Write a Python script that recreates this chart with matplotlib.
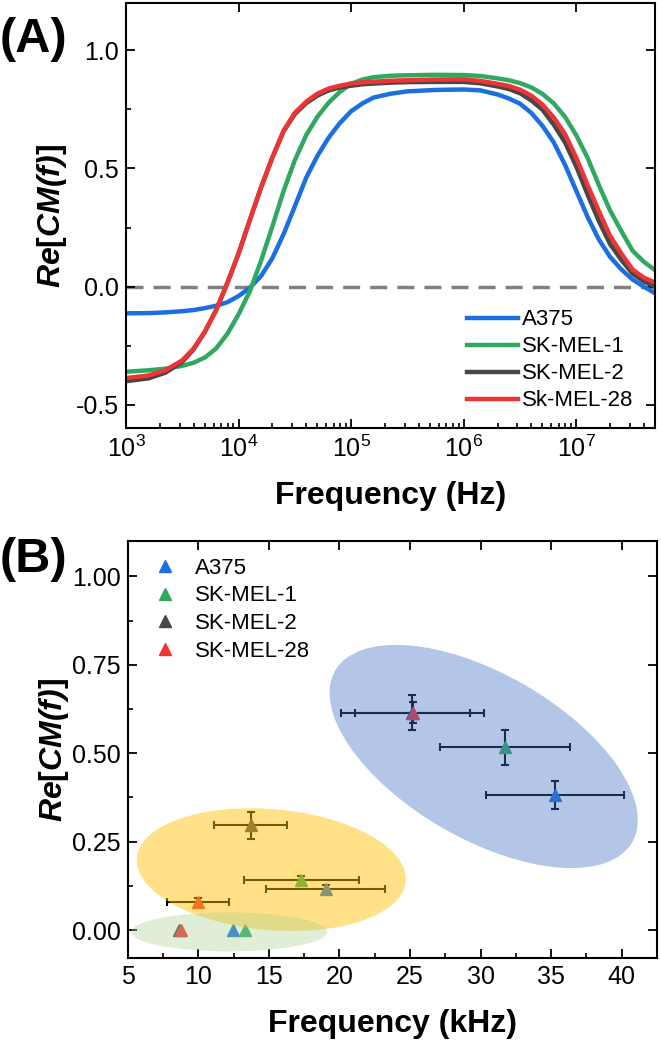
import numpy as np
import matplotlib
matplotlib.use('Agg')
import matplotlib.pyplot as plt
import matplotlib.transforms as mtransforms
from matplotlib.patches import Ellipse
from matplotlib.lines import Line2D
from matplotlib.ticker import MultipleLocator, LogLocator, NullFormatter, FormatStrFormatter

# ---------------- data ----------------
cell_lines = ['A375', 'SK-MEL-1', 'SK-MEL-2', 'SK-MEL-28']
legend_A = ['A375', 'SK-MEL-1', 'SK-MEL-2', 'Sk-MEL-28']
colors = ['#1b6fe0', '#31a85f', '#474747', '#ee3434']

# (A) Re[CM(f)] spectra, read at these log10(f / Hz) values
log_freq_A = [3.0, 3.2, 3.35, 3.5, 3.6, 3.7, 3.8, 3.9, 4.0, 4.1, 4.2, 4.3, 4.4, 4.5,
              4.6, 4.7, 4.8, 4.9, 5.0, 5.1, 5.2, 5.35, 5.5, 5.75, 6.0, 6.15, 6.3, 6.4,
              6.5, 6.6, 6.7, 6.8, 6.9, 7.0, 7.1, 7.2, 7.3, 7.4, 7.5, 7.6, 7.7]
cm_a375 = [-0.113, -0.112, -0.109, -0.104, -0.099, -0.091, -0.081, -0.066, -0.040, -0.005,
           0.045, 0.120, 0.222, 0.340, 0.460, 0.553, 0.630, 0.692, 0.742, 0.775,
           0.800, 0.816, 0.826, 0.832, 0.834, 0.830, 0.813, 0.796, 0.774, 0.735,
           0.680, 0.610, 0.515, 0.405, 0.295, 0.200, 0.126, 0.073, 0.030, 0.000, -0.028]
cm_skmel1 = [-0.360, -0.354, -0.347, -0.335, -0.322, -0.300, -0.262, -0.200, -0.117, -0.020,
             0.110, 0.254, 0.405, 0.535, 0.640, 0.718, 0.778, 0.824, 0.858, 0.876,
             0.886, 0.892, 0.894, 0.896, 0.895, 0.891, 0.881, 0.873, 0.861, 0.843,
             0.815, 0.775, 0.718, 0.640, 0.545, 0.430, 0.322, 0.235, 0.152, 0.105, 0.070]
cm_skmel2 = [-0.400, -0.388, -0.364, -0.318, -0.266, -0.192, -0.100, 0.015, 0.140, 0.282,
             0.420, 0.545, 0.657, 0.730, 0.776, 0.808, 0.830, 0.843, 0.850, 0.856,
             0.859, 0.863, 0.865, 0.866, 0.866, 0.860, 0.847, 0.836, 0.818, 0.788,
             0.748, 0.685, 0.610, 0.508, 0.390, 0.278, 0.180, 0.113, 0.055, 0.022, 0.000]
cm_skmel28 = [-0.387, -0.376, -0.354, -0.312, -0.262, -0.190, -0.100, 0.015, 0.140, 0.282,
              0.420, 0.547, 0.660, 0.735, 0.782, 0.816, 0.838, 0.850, 0.859, 0.864,
              0.867, 0.871, 0.873, 0.876, 0.877, 0.870, 0.858, 0.849, 0.833, 0.808,
              0.770, 0.715, 0.645, 0.545, 0.430, 0.320, 0.215, 0.140, 0.072, 0.038, 0.017]
spectra = [cm_a375, cm_skmel1, cm_skmel2, cm_skmel28]
freq_A = 10 ** np.array(log_freq_A)

# (B) crossover points, kHz, one value per cell line
freq_hi = [35.28, 31.72, 25.15, 25.20]
cm_hi = [0.383, 0.517, 0.615, 0.615]
xerr_hi = [4.87, 4.60, 5.07, 4.07]
yerr_hi = [0.040, 0.050, 0.050, 0.030]

freq_mid = [19.02, 17.30, 13.71, 10.00]
cm_mid = [0.115, 0.141, 0.296, 0.080]
xerr_mid = [4.22, 4.06, 2.60, 2.20]
yerr_mid = [0.013, 0.012, 0.039, 0.012]

freq_lo = [12.43, 13.29, 8.60, 8.75]
cm_lo = [0.0, 0.0, 0.0, 0.0]

# shaded groups: centre (kHz, CM), size in inches, angle, colour, alpha
ell_center = [(30.22, 0.491), (15.17, 0.171), (12.20, -0.005)]
ell_size = [(3.43, 1.65), (2.70, 1.21), (1.96, 0.39)]
ell_angle = [-30, -5, 0]
ell_color = ['#4472C4', '#FFC000', '#A9D18E']
ell_alpha = [0.40, 0.47, 0.35]

# ---------------- style ----------------
plt.rcParams['font.family'] = ['Liberation Sans', 'DejaVu Sans']
plt.rcParams['axes.unicode_minus'] = False
plt.rcParams['mathtext.fontset'] = 'custom'
plt.rcParams['mathtext.rm'] = 'Liberation Sans'
plt.rcParams['mathtext.it'] = 'Liberation Sans:italic'
plt.rcParams['mathtext.bf'] = 'Liberation Sans:bold'
plt.rcParams['mathtext.bfit'] = 'Liberation Sans:bold:italic'

ylab = r'$\mathbfit{Re}$[$\mathbfit{CM(f)}$]'

fig = plt.figure(figsize=(6.61, 10.53), dpi=100)
axA = fig.add_axes([0.1906, 0.5931, 0.8003, 0.4041])
axB = fig.add_axes([0.1932, 0.0898, 0.8008, 0.3964])


def style_axes(ax):
    for s in ax.spines.values():
        s.set_linewidth(1.5)
    ax.tick_params(which='both', direction='in', top=True, right=True, labelsize=18, pad=5)
    ax.tick_params(which='major', length=6.5, width=1.3)
    ax.tick_params(which='minor', length=3.5, width=1.2, top=False, right=False)


# ---------------- (A) ----------------
axA.axhline(0, color='#808080', lw=2.5, ls=(0, (4.9, 2.9)), zorder=1)
for name, vals, col in zip(legend_A, spectra, colors):
    axA.plot(freq_A, vals, color=col, lw=3.2, label=name, zorder=2)

axA.set_xscale('log')
axA.set_xlim(1e3, 5e7)
axA.set_ylim(-0.6, 1.2)
axA.set_yticks([-0.5, 0.0, 0.5, 1.0])
axA.yaxis.set_major_formatter(FormatStrFormatter('%.1f'))
axA.yaxis.set_minor_locator(MultipleLocator(0.25))
axA.xaxis.set_major_locator(LogLocator(base=10, numticks=20))
axA.xaxis.set_minor_locator(LogLocator(base=10, subs=np.arange(2, 10), numticks=20))
axA.xaxis.set_minor_formatter(NullFormatter())
style_axes(axA)
axA.set_xlabel('Frequency (Hz)', fontsize=23, fontweight='bold', labelpad=14)
axA.set_ylabel(ylab, fontsize=23, fontweight='bold')
axA.yaxis.set_label_coords(-0.108, 0.5)

axA.legend(loc='lower right', bbox_to_anchor=(0.96, 0.04), frameon=False, fontsize=16,
           handlelength=2.3, handletextpad=0.18, labelspacing=0.27, borderaxespad=0, borderpad=0)

# ---------------- (B) ----------------
for i, col in enumerate(colors):
    axB.errorbar(freq_hi[i], cm_hi[i], xerr=xerr_hi[i], yerr=yerr_hi[i], fmt='^', ms=9,
                 color=col, mec=col, ecolor='black', elinewidth=1.5, capsize=3.2, capthick=1.5, zorder=2)
    axB.errorbar(freq_mid[i], cm_mid[i], xerr=xerr_mid[i], yerr=yerr_mid[i], fmt='^', ms=9,
                 color=col, mec=col, ecolor='black', elinewidth=1.5, capsize=3.2, capthick=1.5, zorder=2)
    axB.plot(freq_lo[i], cm_lo[i], '^', ms=9, color=col, zorder=2)

for c, sz, ang, fc, al in zip(ell_center, ell_size, ell_angle, ell_color, ell_alpha):
    trans = fig.dpi_scale_trans + mtransforms.ScaledTranslation(c[0], c[1], axB.transData)
    axB.add_patch(Ellipse((0, 0), sz[0], sz[1], angle=ang, transform=trans,
                          facecolor=fc, edgecolor='none', alpha=al, zorder=3))

axB.set_xlim(5, 42.5)
axB.set_ylim(-0.08, 1.1)
axB.xaxis.set_major_locator(MultipleLocator(5))
axB.xaxis.set_minor_locator(MultipleLocator(2.5))
axB.set_yticks([0, 0.25, 0.5, 0.75, 1.0])
axB.yaxis.set_major_formatter(FormatStrFormatter('%.2f'))
axB.yaxis.set_minor_locator(MultipleLocator(0.125))
style_axes(axB)
axB.set_xlabel('Frequency (kHz)', fontsize=23, fontweight='bold', labelpad=14)
axB.set_ylabel(ylab, fontsize=23, fontweight='bold')
axB.yaxis.set_label_coords(-0.108, 0.5)

handles = [Line2D([], [], marker='^', ls='none', ms=9, color=c) for c in colors]
axB.legend(handles, cell_lines, loc='upper left', bbox_to_anchor=(0.0535, 0.96), frameon=False,
           fontsize=16, handlelength=0.8, handletextpad=0.95, labelspacing=0.3,
           borderaxespad=0, borderpad=0)

# panel letters
fig.text(0.0, 1 - 40 / 1053, '(A)', fontsize=35, fontweight='bold', va='center', ha='left')
fig.text(0.0, 1 - 560 / 1053, '(B)', fontsize=35, fontweight='bold', va='center', ha='left')

fig.savefig('out.png', dpi=100)
